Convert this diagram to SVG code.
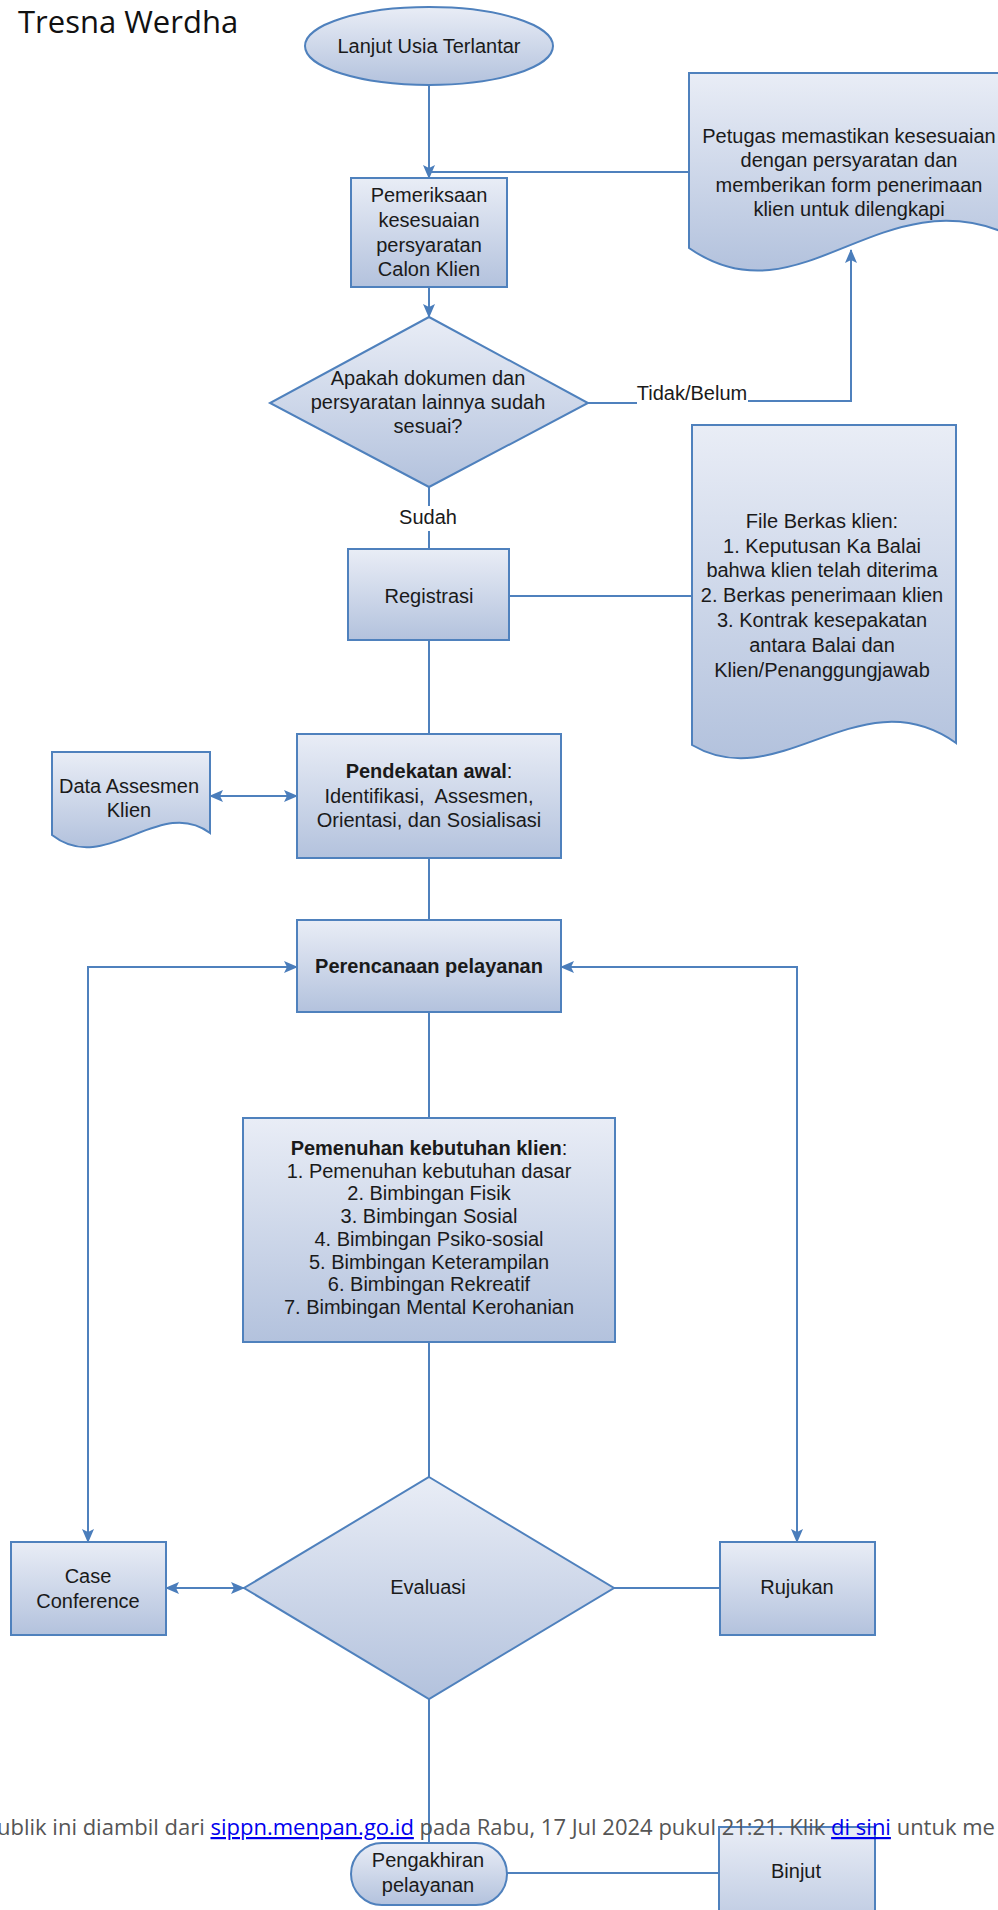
<svg xmlns="http://www.w3.org/2000/svg" width="998" height="1910" viewBox="0 0 998 1910">
<defs>
<linearGradient id="g" x1="0" y1="0" x2="0" y2="1">
<stop offset="0" stop-color="#e9edf6"/>
<stop offset="1" stop-color="#b3c2dd"/>
</linearGradient>
<marker id="ah" viewBox="0 0 14 12" refX="13" refY="6" markerWidth="14" markerHeight="12" markerUnits="userSpaceOnUse" orient="auto-start-reverse">
<path d="M0,0 L14,6 L0,12 L3,6 Z" fill="#4a7dbb"/>
</marker>
<style>
.s{fill:url(#g);stroke:#4f81bd;stroke-width:2}
.t{font-family:"Liberation Sans",Arial,sans-serif;font-size:20px;fill:#1a1a1a;text-anchor:middle}
.b{font-weight:bold}
.c{fill:none;stroke:#4f81bd;stroke-width:2}
.a{marker-end:url(#ah)}
.aa{marker-start:url(#ah);marker-end:url(#ah)}
.f{font-family:"Open Sans","Noto Sans",sans-serif;font-size:22px;fill:#555555}
.lk{fill:#0000ee;text-decoration:underline}
</style>
</defs>
<rect width="998" height="1910" fill="#ffffff"/>
<text x="18" y="33" font-family="'Open Sans','Noto Sans',sans-serif" font-size="31" fill="#111111">Tresna Werdha</text>

<g id="connectors">
<path class="c a" d="M429,85 V178"/>
<path class="c" d="M689,172 H429"/>
<path class="c a" d="M429,287 V317"/>
<path class="c" d="M588,403 H637"/>
<path class="c a" d="M748,401 H851 V250"/>
<path class="c" d="M429,487 V506"/>
<path class="c" d="M429,531 V549"/>
<path class="c" d="M509,596 H692"/>
<path class="c" d="M429,640 V734"/>
<path class="c aa" d="M210,796 H297"/>
<path class="c" d="M429,858 V920"/>
<path class="c aa" d="M297,967 H88 V1542"/>
<path class="c aa" d="M561,967 H797 V1542"/>
<path class="c" d="M429,1012 V1118"/>
<path class="c" d="M429,1342 V1477"/>
<path class="c aa" d="M244,1588 H166"/>
<path class="c" d="M614,1588 H720"/>
<path class="c" d="M429,1699 V1843"/>
<path class="c" d="M507,1873 H719"/>
<text class="t" x="692" y="400">Tidak/Belum</text>
<text class="t" x="428" y="524">Sudah</text>
</g>

<g id="start">
<ellipse class="s" cx="429" cy="46" rx="124" ry="39"/>
<text class="t" x="429" y="53">Lanjut Usia Terlantar</text>
</g>

<g id="pemeriksaan">
<rect class="s" x="351" y="178" width="156" height="109"/>
<text class="t" x="429" y="202">Pemeriksaan</text>
<text class="t" x="429" y="227">kesesuaian</text>
<text class="t" x="429" y="252">persyaratan</text>
<text class="t" x="429" y="276">Calon Klien</text>
</g>

<g id="petugas">
<path class="s" d="M689,73 H1010 V235 C880,176 800,325 689,248 Z"/>
<text class="t" x="849" y="143">Petugas memastikan kesesuaian</text>
<text class="t" x="849" y="167">dengan persyaratan dan</text>
<text class="t" x="849" y="192">memberikan form penerimaan</text>
<text class="t" x="849" y="216">klien untuk dilengkapi</text>
</g>

<g id="keputusan">
<path class="s" d="M429,317 L588,403 L429,487 L270,403 Z"/>
<text class="t" x="428" y="385">Apakah dokumen dan</text>
<text class="t" x="428" y="409">persyaratan lainnya sudah</text>
<text class="t" x="428" y="433">sesuai?</text>
</g>

<g id="registrasi">
<rect class="s" x="348" y="549" width="161" height="91"/>
<text class="t" x="429" y="603">Registrasi</text>
</g>

<g id="fileberkas">
<path class="s" d="M692,425 H956 V743 C860,675 780,797 692,745 Z"/>
<text class="t" x="822" y="528">File Berkas klien:</text>
<text class="t" x="822" y="553">1. Keputusan Ka Balai</text>
<text class="t" x="822" y="577">bahwa klien telah diterima</text>
<text class="t" x="822" y="602">2. Berkas penerimaan klien</text>
<text class="t" x="822" y="627">3. Kontrak kesepakatan</text>
<text class="t" x="822" y="652">antara Balai dan</text>
<text class="t" x="822" y="677">Klien/Penanggungjawab</text>
</g>

<g id="dataassesmen">
<path class="s" d="M52,752 H210 V833 C160,795 105,877 52,835 Z"/>
<text class="t" x="129" y="793">Data Assesmen</text>
<text class="t" x="129" y="817">Klien</text>
</g>

<g id="pendekatan">
<rect class="s" x="297" y="734" width="264" height="124"/>
<text class="t" x="429" y="778"><tspan class="b">Pendekatan awal</tspan>:</text>
<text class="t" x="429" y="803">Identifikasi,&#160; Assesmen,</text>
<text class="t" x="429" y="827">Orientasi, dan Sosialisasi</text>
</g>

<g id="perencanaan">
<rect class="s" x="297" y="920" width="264" height="92"/>
<text class="t b" x="429" y="973">Perencanaan pelayanan</text>
</g>

<g id="pemenuhan">
<rect class="s" x="243" y="1118" width="372" height="224"/>
<text class="t" x="429" y="1155"><tspan class="b">Pemenuhan kebutuhan klien</tspan>:</text>
<text class="t" x="429" y="1178">1. Pemenuhan kebutuhan dasar</text>
<text class="t" x="429" y="1200">2. Bimbingan Fisik</text>
<text class="t" x="429" y="1223">3. Bimbingan Sosial</text>
<text class="t" x="429" y="1246">4. Bimbingan Psiko-sosial</text>
<text class="t" x="429" y="1269">5. Bimbingan Keterampilan</text>
<text class="t" x="429" y="1291">6. Bimbingan Rekreatif</text>
<text class="t" x="429" y="1314">7. Bimbingan Mental Kerohanian</text>
</g>

<g id="evaluasi">
<path class="s" d="M429,1477 L614,1588 L429,1699 L244,1588 Z"/>
<text class="t" x="428" y="1594">Evaluasi</text>
</g>

<g id="caseconference">
<rect class="s" x="11" y="1542" width="155" height="93"/>
<text class="t" x="88" y="1583">Case</text>
<text class="t" x="88" y="1608">Conference</text>
</g>

<g id="rujukan">
<rect class="s" x="720" y="1542" width="155" height="93"/>
<text class="t" x="797" y="1594">Rujukan</text>
</g>

<g id="pengakhiran">
<rect class="s" x="351" y="1843" width="156" height="62" rx="31" ry="31"/>
<text class="t" x="428" y="1867">Pengakhiran</text>
<text class="t" x="428" y="1892">pelayanan</text>
</g>

<g id="binjut">
<rect class="s" x="719" y="1827" width="156" height="120"/>
<text class="t" x="796" y="1878">Binjut</text>
</g>

<text class="f" x="-3" y="1835">ublik ini diambil dari <tspan class="lk">sippn.menpan.go.id</tspan> pada Rabu, 17 Jul 2024 pukul 21:21. Klik <tspan class="lk">di sini</tspan> untuk me</text>
</svg>
